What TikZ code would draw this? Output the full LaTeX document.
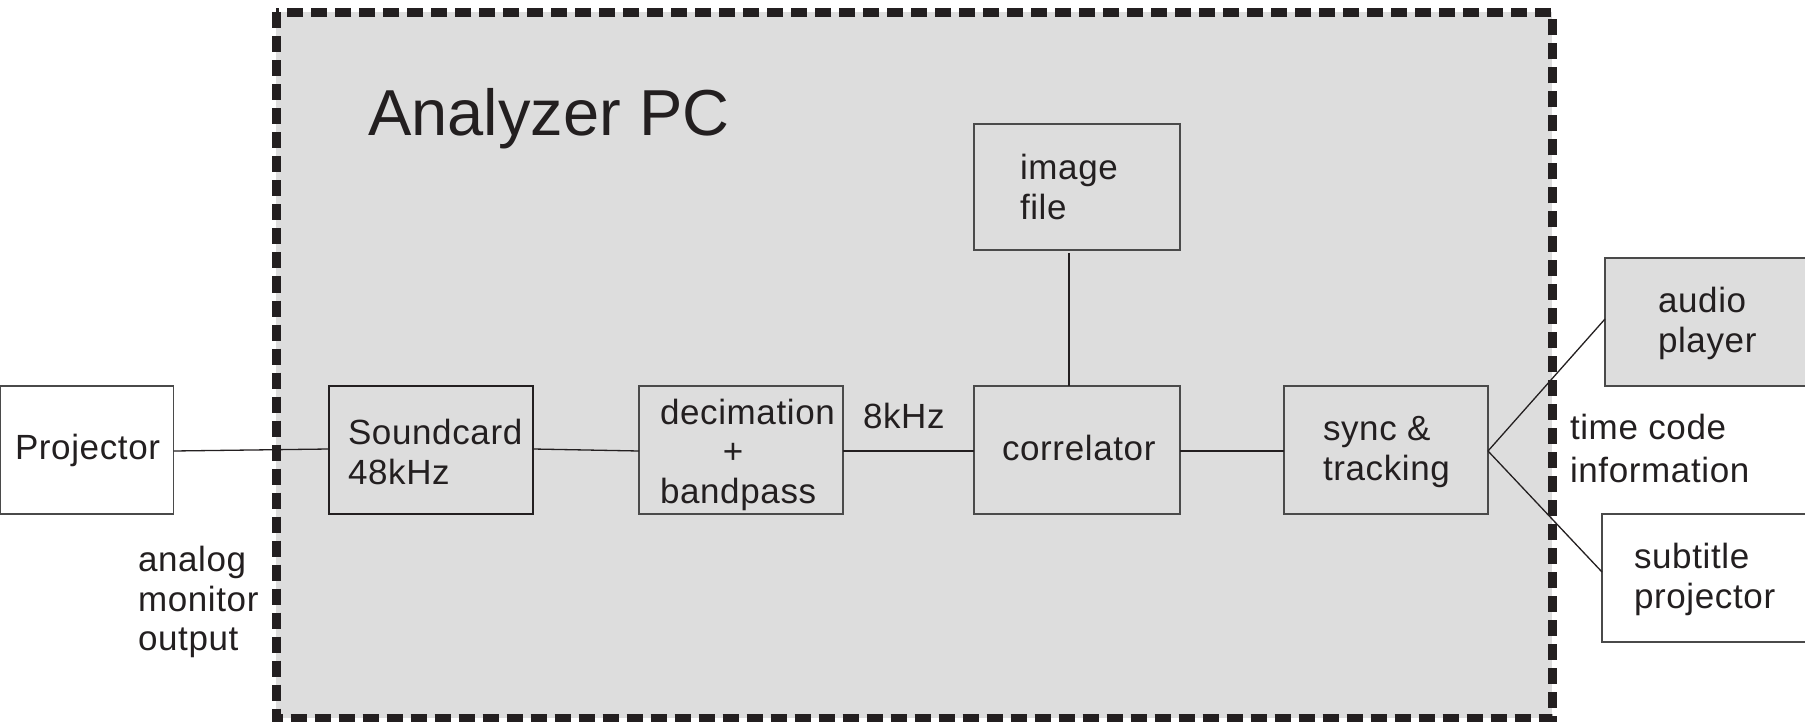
\documentclass[tikz,border=0pt]{standalone}
\usepackage{fontspec}
\setmainfont{Liberation Sans}
\newfontfamily\lblfont[LetterSpace=1.8]{Liberation Sans}
\definecolor{ink}{HTML}{231F20}
\definecolor{pcgray}{HTML}{DDDDDD}
\definecolor{boxline}{HTML}{4A4A4A}
\begin{document}
\begin{tikzpicture}[x=1pt,y=-1pt,
  box/.style={draw=boxline, line width=1.4pt, inner sep=0pt, outer sep=0pt,
              minimum width=204pt, minimum height=128pt, anchor=north west},
  lbl/.style={anchor=base west, inner sep=0pt, outer sep=0pt, text=ink,
              font=\lblfont\fontsize{35}{40}\selectfont},
  wire/.style={draw=ink, line width=1.3pt},
  pcframe/.style={draw=ink, line width=9pt, dash pattern=on 16pt off 8pt, fill=pcgray}]
\useasboundingbox (0,0) rectangle (1805,722);
% Analyzer PC frame
\draw[pcframe] (276,12.5) rectangle (1552,718);
\node[anchor=base west, inner sep=0pt, text=ink, font=\fontsize{65}{70}\selectfont] (title) at (368,136) {Analyzer PC};
% boxes
\node[box, fill=white, minimum width=173pt] (proj) at (0.7,386) {};
\node[box, draw=ink, line width=2.2pt] (sc) at (329,386) {};
\node[box] (dec) at (639,386) {};
\node[box, minimum width=206pt] (cor) at (974,386) {};
\node[box, minimum width=206pt, minimum height=126pt] (img) at (974,124) {};
\node[box] (sync) at (1284,386) {};
\node[box, fill=pcgray, minimum width=230pt] (audio) at (1605,258) {};
\node[box, fill=white, minimum width=230pt] (sub) at (1602,514) {};
% connectors
\draw[wire] ([yshift=-1pt]proj.east) -- ([yshift=1pt]sc.west);
\draw[wire] ([yshift=1pt]sc.east) -- ([yshift=-1pt]dec.west);
\draw[wire] ([yshift=-1pt]dec.east) -- ([yshift=-1pt]cor.west);
\draw[wire] ([yshift=-1pt]cor.east) -- ([yshift=-1pt]sync.west);
\draw[wire] ([xshift=-8pt,yshift=-3pt]img.south) -- ([xshift=-8pt]cor.north);
\draw[wire] ([yshift=-1pt]sync.east) -- ([yshift=3pt]audio.west);
\draw[wire] ([yshift=-1pt]sync.east) -- ([yshift=6pt]sub.west);
% labels
\node[lbl] (tproj) at (15,459) {Projector};
\node[lbl] (tsc1) at (348,444) {Soundcard};
\node[lbl] (tsc2) at (348,484) {48kHz};
\node[lbl] (tdec1) at (660,424) {decimation};
\node[lbl, anchor=base] (tdec2) at (733,463) {+};
\node[lbl] (tdec3) at (660,503) {bandpass};
\node[lbl] (t8k) at (863,428) {8kHz};
\node[lbl] (tcor) at (1002,460) {correlator};
\node[lbl] (timg1) at (1020,180) {image};
\node[lbl] (timg2) at (1020,220) {file};
\node[lbl] (tsync1) at (1323,440) {sync \&};
\node[lbl] (tsync2) at (1323,480) {tracking};
\node[lbl] (taud1) at (1658,312) {audio};
\node[lbl] (taud2) at (1658,352) {player};
\node[lbl] (ttc1) at (1570,439) {time code};
\node[lbl] (ttc2) at (1570,482) {information};
\node[lbl] (tsub1) at (1634,568) {subtitle};
\node[lbl] (tsub2) at (1634,608) {projector};
\node[lbl] (tan1) at (138,571) {analog};
\node[lbl] (tan2) at (138,611) {monitor};
\node[lbl] (tan3) at (138,650) {output};
\end{tikzpicture}
\end{document}
